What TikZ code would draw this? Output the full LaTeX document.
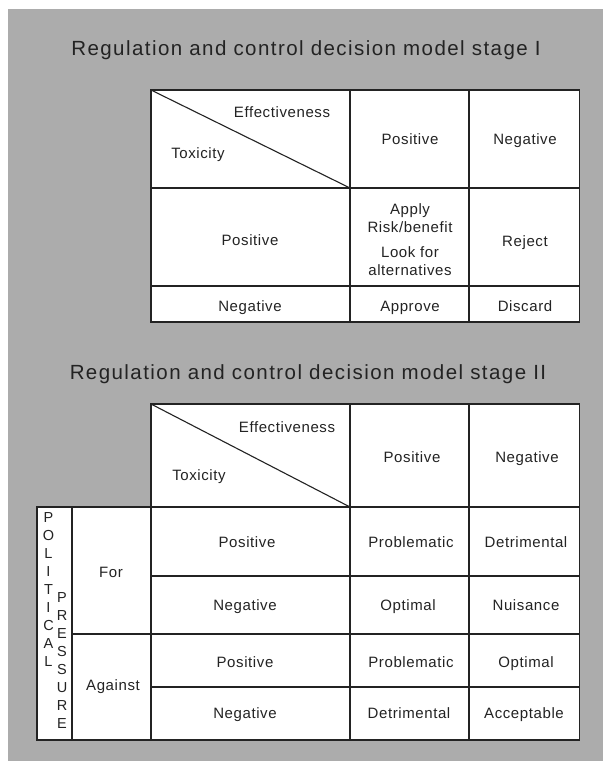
\documentclass[tikz,border=0pt]{standalone}
\usepackage{fontspec}
\setmainfont[LetterSpace=4]{Liberation Sans}
\newfontfamily\titlefont[LetterSpace=7]{Liberation Sans}
\definecolor{bg}{RGB}{172,172,172}
\definecolor{ink}{RGB}{35,35,35}
\begin{document}
\begin{tikzpicture}[x=1pt,y=-1pt,
  grid/.style={draw=ink,line width=1.3pt},
  lbl/.style={font=\fontsize{15}{17}\selectfont, text=ink, inner sep=0pt, align=center, text height=10.8pt, text depth=0pt},
  lbl2/.style={font=\fontsize{15}{17}\selectfont, text=ink, inner sep=0pt, align=center},
  ttl/.style={font=\titlefont\fontsize{20.5}{24}\selectfont, text=ink, inner sep=0pt, text height=14.8pt, text depth=0pt},
  vl/.style={font=\fontsize{14.5}{17}\selectfont, text=ink, inner sep=0pt, text height=10.4pt, text depth=0pt}]
\useasboundingbox (0,0) rectangle (603,761);
\fill[white] (0,0) rectangle (603,761);
\fill[bg] (8,9) rectangle (603,761);

% ---------- Stage I ----------
\node[ttl] (t1) at (306,48) {Regulation and control decision model stage I};
\fill[white] (151,90) rectangle (579.5,322);
\draw[grid] (151,90) rectangle (579.5,322);
\draw[grid] (350,90) -- (350,322);
\draw[grid] (469,90) -- (469,322);
\draw[grid] (151,188) -- (579.5,188);
\draw[grid] (151,286) -- (579.5,286);
\draw[grid,line width=1.1pt] (151,90) -- (350,188);

\node[lbl] (a-eff) at (282,112) {Effectiveness};
\node[lbl] (a-tox) at (198,153) {Toxicity};
\node[lbl] (a-hpos) at (410,139) {Positive};
\node[lbl] (a-hneg) at (525,139) {Negative};
\node[lbl] (a-rpos) at (250,240) {Positive};
\node[lbl] (a-apply) at (410,209) {Apply};
\node[lbl] (a-risk) at (410,227) {Risk/benefit};
\node[lbl] (a-look) at (410,252) {Look for};
\node[lbl] (a-alt) at (410,270) {alternatives};
\node[lbl] (a-rej) at (525,241) {Reject};
\node[lbl] (a-rneg) at (250,306) {Negative};
\node[lbl] (a-appr) at (410,306) {Approve};
\node[lbl] (a-disc) at (525,306) {Discard};

% ---------- Stage II ----------
\node[ttl] (t2) at (308,372) {Regulation and control decision model stage II};
\fill[white] (151,404) rectangle (579.5,740);
\fill[white] (37,507) rectangle (151,740);
\draw[grid] (151,507) -- (151,404) -- (579.5,404) -- (579.5,740) -- (37,740) -- (37,507) -- cycle;
\draw[grid] (72,507) -- (72,740);
\draw[grid] (151,507) -- (151,740);
\draw[grid] (350,404) -- (350,740);
\draw[grid] (469,404) -- (469,740);
\draw[grid] (151,507) -- (579.5,507);
\draw[grid] (151,576) -- (579.5,576);
\draw[grid] (72,634) -- (579.5,634);
\draw[grid] (151,687) -- (579.5,687);
\draw[grid,line width=1.1pt] (151,404) -- (350,507);

\node[lbl] (b-eff) at (287,427) {Effectiveness};
\node[lbl] (b-tox) at (199,475) {Toxicity};
\node[lbl] (b-hpos) at (412,457) {Positive};
\node[lbl] (b-hneg) at (527,457) {Negative};

\node[lbl] (b-for) at (111,572) {For};
\node[lbl] (b-ag) at (113,685) {Against};

\node[lbl] (b-r1) at (247,542) {Positive};
\node[lbl] (b-r2) at (245,605) {Negative};
\node[lbl] (b-r3) at (245,662) {Positive};
\node[lbl] (b-r4) at (245,713) {Negative};

\node[lbl] (b-c11) at (411,542) {Problematic};
\node[lbl] (b-c12) at (526,542) {Detrimental};
\node[lbl] (b-c21) at (408,605) {Optimal};
\node[lbl] (b-c22) at (526,605) {Nuisance};
\node[lbl] (b-c31) at (411,662) {Problematic};
\node[lbl] (b-c32) at (526,662) {Optimal};
\node[lbl] (b-c41) at (409,713) {Detrimental};
\node[lbl] (b-c42) at (524,713) {Acceptable};

\foreach \ch [count=\i from 0] in {P,O,L,I,T,I,C,A,L}
  \node[vl] (pol\i) at (48.5,{517+18*\i}) {\ch};
\foreach \ch [count=\i from 0] in {P,R,E,S,S,U,R,E}
  \node[vl] (pres\i) at (62,{597+18.1*\i}) {\ch};
\end{tikzpicture}
\end{document}
